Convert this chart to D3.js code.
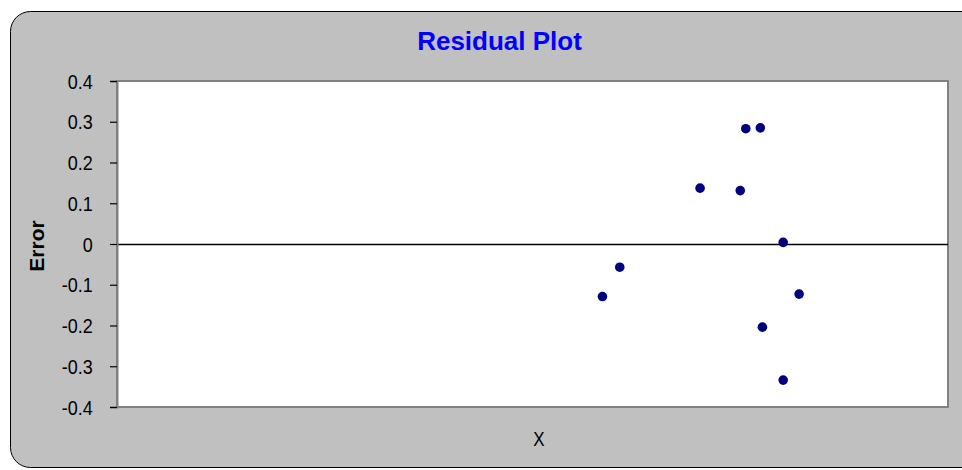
<!DOCTYPE html>
<html>
<head>
<meta charset="utf-8">
<script src="https://cdn.jsdelivr.net/npm/d3@7"></script>
<style>
  body { margin: 0; background: #fff; }
  text { font-family: Arial, "Liberation Sans", sans-serif; }
</style>
</head>
<body>
<div id="chart"></div>
<script>
// residual values
var xValues = [70.1, 72.6, 84.2, 90.0, 90.8, 92.9, 93.2, 96.2, 96.2, 98.5];
var errValues = [-0.129, -0.057, 0.137, 0.131, 0.283, 0.285, -0.204, 0.004, -0.334, -0.123];
var yTicks = [-0.4, -0.3, -0.2, -0.1, 0, 0.1, 0.2, 0.3, 0.4];

var W = 962, H = 470;
var plot = {left: 117, top: 81, right: 948, bottom: 407};

var svg = d3.select('#chart').append('svg')
    .attr('width', W)
    .attr('height', H);

// gray chart area with rounded corner
svg.append('rect')
    .attr('x', 10.5).attr('y', 11.5)
    .attr('width', 990).attr('height', 456)
    .attr('rx', 20)
    .attr('fill', '#c0c0c0')
    .attr('stroke', '#000')
    .attr('stroke-width', 1);

var x = d3.scaleLinear().domain([0, 120]).range([plot.left, plot.right]);
var y = d3.scaleLinear().domain([-0.4, 0.4]).range([plot.bottom, plot.top]);

// plot area
svg.append('rect')
    .attr('x', plot.left).attr('y', plot.top)
    .attr('width', plot.right - plot.left)
    .attr('height', plot.bottom - plot.top)
    .attr('fill', '#fff')
    .attr('stroke', '#808080')
    .attr('stroke-width', 2);

// zero line
var y0 = Math.round(y(0)) + 0.5;
svg.append('line')
    .attr('x1', plot.left).attr('x2', plot.right)
    .attr('y1', y0).attr('y2', y0)
    .attr('stroke', '#000')
    .attr('stroke-width', 1.5);

// y axis
var yAxis = d3.axisLeft(y)
    .tickValues(yTicks)
    .tickSize(7)
    .tickPadding(0)
    .tickFormat(function(d){ return d === 0 ? '0' : d.toFixed(1); });

var ga = svg.append('g')
    .attr('transform', 'translate(' + plot.left + ',0)')
    .call(yAxis);
ga.select('.domain').attr('stroke', '#808080').attr('stroke-width', 2);
ga.selectAll('.tick line').attr('stroke', '#000').attr('stroke-width', 1.2);
ga.selectAll('.tick text')
    .attr('x', -27)
    .attr('dy', '0.36em')
    .attr('transform', 'scale(0.9,1)')
    .attr('font-size', 20)
    .attr('font-family', 'Arial, "Liberation Sans", sans-serif')
    .attr('fill', '#000');

// points
svg.selectAll('circle.pt')
    .data(xValues)
    .enter()
    .append('circle')
    .attr('class', 'pt')
    .attr('cx', function(d){ return x(d); })
    .attr('cy', function(d, i){ return y(errValues[i]); })
    .attr('r', 4.8)
    .attr('fill', '#000080');

// title
svg.append('text')
    .attr('x', 499.5).attr('y', 50)
    .attr('text-anchor', 'middle')
    .attr('font-size', 26)
    .attr('font-weight', 'bold')
    .attr('fill', '#0000ff')
    .text('Residual Plot');

// axis titles
svg.append('text')
    .attr('transform', 'translate(44,246) rotate(-90)')
    .attr('text-anchor', 'middle')
    .attr('font-size', 21)
    .attr('font-weight', 'bold')
    .attr('fill', '#000')
    .text('Error');

svg.append('text')
    .attr('transform', 'translate(539,446) scale(0.85,1)')
    .attr('text-anchor', 'middle')
    .attr('font-size', 20)
    .attr('fill', '#000')
    .text('X');
</script>
</body>
</html>
